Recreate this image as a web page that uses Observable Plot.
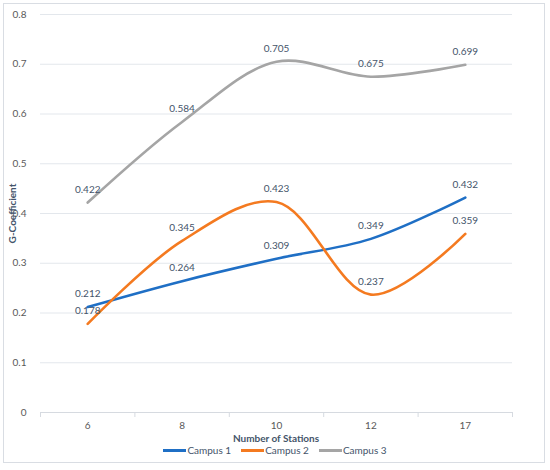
<!DOCTYPE html>
<html><head><meta charset="utf-8">
<script src="https://cdn.jsdelivr.net/npm/d3@7"></script>
<script src="https://cdn.jsdelivr.net/npm/@observablehq/plot@0.6"></script>
<style>
body{margin:0;background:#fff;font-family:Lato,"Open Sans",sans-serif;}
#wrap{position:relative;width:550px;height:470px;overflow:hidden;}
#frame{position:absolute;left:3px;top:3px;width:542px;height:460px;border:1px solid #d9dde3;box-sizing:border-box;}
#chart{position:absolute;left:0;top:0;}
#xtitle{position:absolute;left:40px;width:472px;top:432px;text-align:center;font-size:10px;font-weight:bold;color:#44546a;}
#legend{position:absolute;left:0;width:550px;top:444px;display:flex;justify-content:center;gap:10px;font-size:10px;color:#44546a;}
#legend .it{display:flex;align-items:center;}
#legend .sw{width:23px;height:3px;margin-right:1px;}
</style></head>
<body>
<div id="wrap"><div id="frame"></div><div id="chart"></div><div id="xtitle">Number of Stations</div><div id="legend"></div></div>
<script>
const stations = ["6","8","10","12","17"];
const campus1 = [0.212,0.264,0.309,0.349,0.432];
const campus2 = [0.178,0.345,0.423,0.237,0.359];
const campus3 = [0.422,0.584,0.705,0.675,0.699];
const seriesNames = ["Campus 1","Campus 2","Campus 3"];
const colors = ["#1f6fc5","#f47a20","#a5a5a5"];
const yTicks = [0,0.1,0.2,0.3,0.4,0.5,0.6,0.7,0.8];

const all = [campus1,campus2,campus3];
const data = [];
all.forEach((vals,s)=>vals.forEach((v,i)=>data.push({series:seriesNames[s],i,v,label:String(v)})));
const bounds = d3.range(stations.length+1).map(i=>i-0.5);

const chart = Plot.plot({
  width:550,height:430,
  marginLeft:40,marginRight:38,marginTop:14,marginBottom:18,
  style:{fontFamily:"Lato, 'Open Sans', sans-serif",fontSize:"10px",color:"#595959",background:"transparent"},
  x:{domain:[-0.5,stations.length-0.5],ticks:d3.range(stations.length),tickFormat:i=>stations[i],tickSize:0,tickPadding:9,label:null},
  y:{domain:[0,0.8],ticks:yTicks,tickFormat:d=>d===0?"0":String(d),tickSize:0,tickPadding:14,label:"G-Coefficient",labelAnchor:"center",labelArrow:"none",labelOffset:32},
  color:{domain:seriesNames,range:colors},
  marks:[
    Plot.ruleY(yTicks.filter(d=>d>0),{stroke:"#e3e7ec",strokeWidth:1}),
    Plot.ruleY([0],{stroke:"#d6dae0",strokeWidth:1}),
    Plot.ruleX(bounds,{x:d=>d,y1:0,y2:0,insetBottom:-5,stroke:"#d6dae0"}),
    Plot.line(data,{x:"i",y:"v",z:"series",stroke:"series",strokeWidth:2.6,curve:"catmull-rom"}),
    Plot.text(data,{x:"i",y:"v",text:"label",dy:-13,fill:"#44546a",fontSize:10})
  ]
});
d3.select(chart).selectAll("[aria-label='y-axis label'] text").attr("font-weight","bold").attr("fill","#44546a");
document.getElementById("chart").appendChild(chart);

const lg = document.getElementById("legend");
seriesNames.forEach((n,k)=>{
  const it=document.createElement("div");it.className="it";
  const sw=document.createElement("div");sw.className="sw";sw.style.background=colors[k];
  const t=document.createElement("span");t.textContent=n;
  it.appendChild(sw);it.appendChild(t);lg.appendChild(it);
});
</script>
</body></html>
